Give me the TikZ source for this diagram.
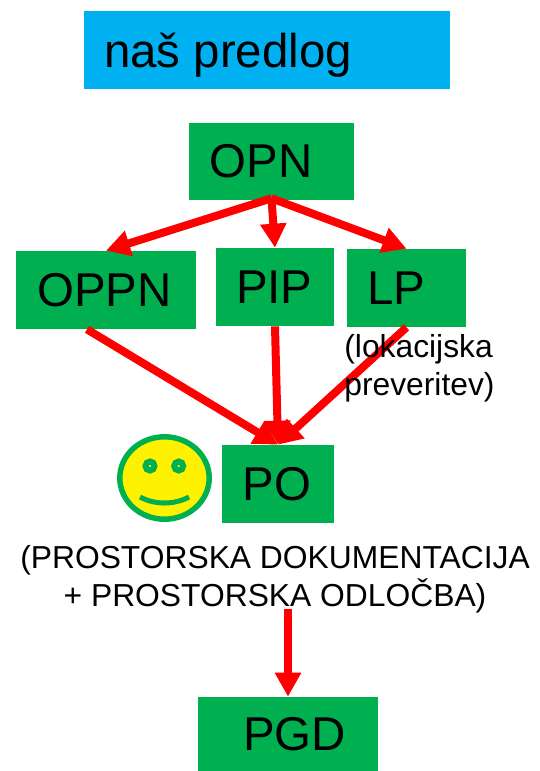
\documentclass[tikz,border=0pt]{standalone}
\usepackage{fontspec}
\setmainfont{Liberation Sans}
\usepackage{xcolor}
\usetikzlibrary{arrows.meta,calc}
\definecolor{boxgreen}{HTML}{00B050}
\definecolor{boxblue}{HTML}{00B0F0}
\tikzset{
    greenbox/.style={fill=boxgreen, inner sep=0pt, font=\fontsize{27}{30}\selectfont},
    bluebox/.style={fill=boxblue, inner sep=0pt, font=\fontsize{27}{30}\selectfont},
    note/.style={inner sep=0pt, font=\fontsize{18.1}{21.6}\selectfont},
    redarrow/.style={-{Triangle[length=0.48cm,width=0.5cm]}, red, line width=0.16cm},
    smileline/.style={draw=boxgreen, line width=0.11cm}
}
\begin{document}
\begin{tikzpicture}[x=0.02cm, y=-0.02cm]
    \useasboundingbox (0, 0) rectangle (540, 771);

    % Title
    \node[bluebox, minimum width=7.32cm, minimum height=1.56cm] (title) at (267, 50) {\raisebox{-0.36cm}[0pt][0pt]{naš predlog}\kern1.56cm};

    % Boxes
    \node[greenbox, minimum width=3.3cm, minimum height=1.54cm] (opn) at (271.5, 161.5) {OPN\kern0.42cm};
    \node[greenbox, minimum width=3.6cm, minimum height=1.56cm] (oppn) at (106, 290) {OPPN\kern0.06cm};
    \node[greenbox, minimum width=2.36cm, minimum height=1.56cm] (pip) at (275, 287) {PIP\kern0.03cm};
    \node[greenbox, minimum width=2.38cm, minimum height=1.56cm] (lp) at (406.5, 288) {LP\kern0.4cm};
    \node[greenbox, minimum width=2.24cm, minimum height=1.56cm] (po) at (278, 484) {PO\kern0.05cm};
    \node[greenbox, minimum width=3.6cm, minimum height=1.48cm] (pgd) at (288, 734) {\kern0.26cm PGD};

    % Arrows
    \coordinate (opnout) at ([yshift=0.04cm]opn.south);
    \draw[redarrow] (opnout) -- (oppn.north);
    \draw[redarrow] (opnout) -- (pip.north);
    \draw[redarrow] (opnout) -- (lp.north);
    \draw[redarrow] ([xshift=-0.38cm]oppn.south) -- (po.north);
    \draw[redarrow] (pip.south) -- (po.north);
    \draw[redarrow] (lp.south) -- (po.north);
    \coordinate (pgdin) at (288, 609);
    \draw[redarrow] (pgdin) -- (pgd.north);

    % Notes
    \node[note, align=left, anchor=west] (lpnote) at (344, 368) {(lokacijska\\preveritev)};
    \node[note, align=center] (ponote) at (275, 579) {(PROSTORSKA DOKUMENTACIJA\\+ PROSTORSKA ODLOČBA)};

    % Smiley
    \draw[smileline, fill=yellow] (164.5, 478) ellipse (44.7 and 41.2);
    \draw[smileline, line width=0.12cm, fill=yellow] (150, 466) circle (4.5);
    \draw[smileline, line width=0.12cm, fill=yellow] (178.7, 466) circle (4.5);
    \draw[smileline, line width=0.1cm] (140, 497) .. controls (155, 505) and (174, 505) .. (189, 497);
\end{tikzpicture}
\end{document}
